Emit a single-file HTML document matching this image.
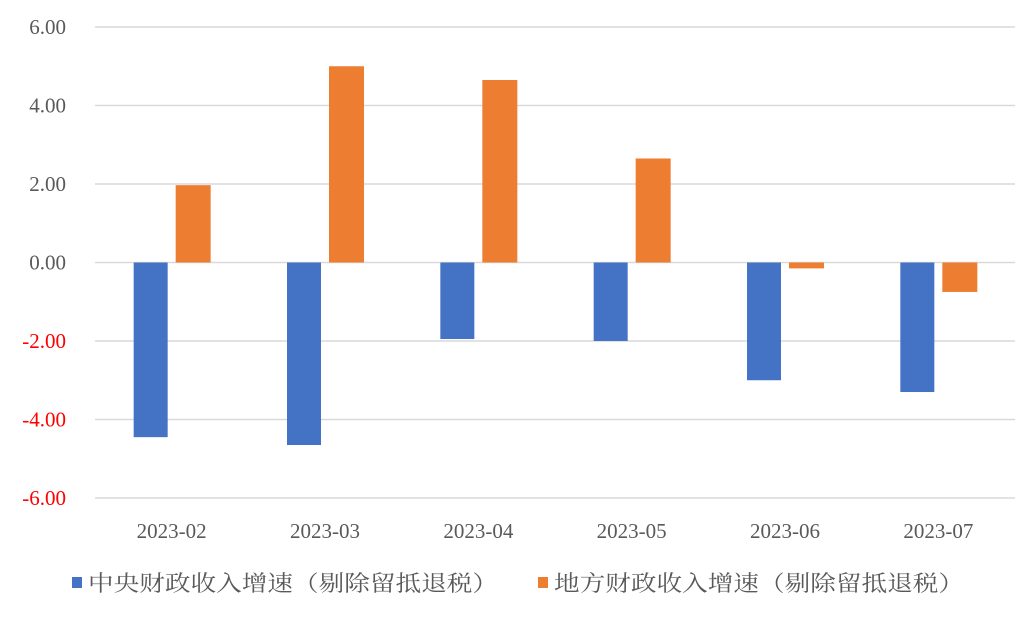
<!DOCTYPE html>
<html><head><meta charset="utf-8"><style>
body{margin:0;background:#fff;}
svg text{font-family:"Liberation Serif","Noto Serif CJK SC",serif;}
</style></head><body>
<svg id="chart" width="1035" height="616" xmlns="http://www.w3.org/2000/svg"></svg>
<script>
const categories=["2023-02","2023-03","2023-04","2023-05","2023-06","2023-07"];
const centralValues=[-4.45,-4.65,-1.95,-2.0,-3.0,-3.3];
const localValues=[1.97,5.0,4.65,2.65,-0.15,-0.75];
const tickValues=[6,4,2,0,-2,-4,-6];
const seriesNames=["中央财政收入增速（剔除留抵退税）","地方财政收入增速（剔除留抵退税）"];
const svg=document.getElementById('chart');
const NS="http://www.w3.org/2000/svg";
const x0=95,x1=1015,yTop=27,yBot=498,vMax=6,vMin=-6;
function y(v){return yTop+(vMax-v)/(vMax-vMin)*(yBot-yTop);}
const band=(x1-x0)/categories.length;
function cx(i){return x0+band*(i+0.5);}
function mk(tag,attrs){const e=document.createElementNS(NS,tag);for(const k in attrs)e.setAttribute(k,attrs[k]);svg.appendChild(e);return e;}
tickValues.forEach(v=>{
  const l=mk('line',{x1:x0,x2:x1,y1:y(v),y2:y(v),stroke:'#d9d9d9','stroke-width':1.5});
  
  
  const t=mk('text',{x:66,y:y(v)+7,'text-anchor':'end','font-size':21,fill:v<0?'#ff0000':'#595959'});
  t.textContent=v.toFixed(2);
  
  
});
categories.forEach((c,i)=>{
  const vb=centralValues[i],vo=localValues[i];
  const b=mk('rect',{x:cx(i)-38,width:34,y:Math.min(y(0),y(vb)),height:Math.abs(y(vb)-y(0)),fill:'#4472c4'});
  
  
  const o=mk('rect',{x:cx(i)+4,width:35,y:Math.min(y(0),y(vo)),height:Math.abs(y(vo)-y(0)),fill:'#ed7d31'});
  
  
  const t=mk('text',{x:cx(i),y:538,'text-anchor':'middle','font-size':21,fill:'#595959'});
  t.textContent=c;
  
  
});
const legX=[72,538],cols=['#4472c4','#ed7d31'];
seriesNames.forEach((n,i)=>{
  const r=mk('rect',{x:legX[i],y:577,width:10,height:11,fill:cols[i]});
  
  
  const t=mk('text',{x:legX[i]+16,y:591,'font-size':22,fill:'#595959',textLength:410,lengthAdjust:'spacingAndGlyphs'});
  t.textContent=n;
  
  
});
</script>
</body></html>
